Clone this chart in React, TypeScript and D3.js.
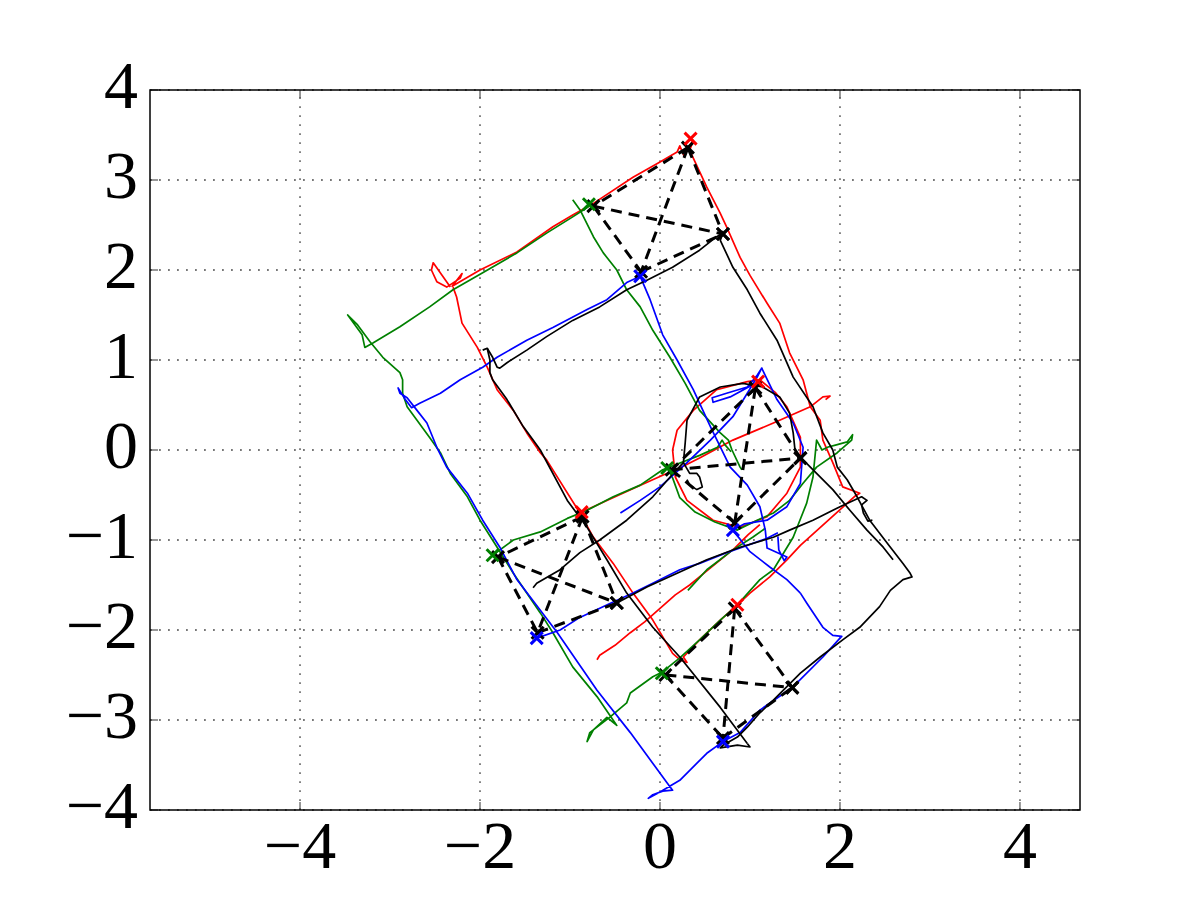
import React, { useEffect, useRef } from "react";
import * as d3 from "d3";

type Pt = [number, number];

// axis setup
const xTicks = [-4, -2, 0, 2, 4];
const yTicks = [-4, -3, -2, -1, 0, 1, 2, 3, 4];
const xDomain: Pt = [-5.667, 4.667];
const yDomain: Pt = [-4, 4];

// red trajectory pieces
const red1: Pt[] = [
  [-2.33, 1.81], [-2.52, 2.08], [-2.54, 2.0], [-2.48, 1.87], [-2.37, 1.81], [-2.22, 1.91], [-2.2, 1.96],
  [-2.31, 1.82], [-2.0, 2.0], [-1.59, 2.2], [-1.19, 2.48], [-0.97, 2.61], [-0.74, 2.74], [-0.3, 3.03],
  [0.0, 3.2], [0.19, 3.31], [0.22, 3.38], [0.27, 3.26], [0.31, 3.36], [0.37, 3.44], [0.33, 3.33],
  [0.52, 2.92], [0.67, 2.63], [0.74, 2.48], [0.89, 2.14], [1.0, 1.94], [1.19, 1.63], [1.33, 1.41],
  [1.44, 1.08], [1.59, 0.78], [1.67, 0.48], [1.78, 0.33], [1.81, 0.11], [1.92, -0.14], [2.03, -0.41],
  [2.22, -0.48], [2.17, -0.51], [1.56, -1.06], [1.41, -1.22], [1.22, -1.41], [1.0, -1.59], [0.86, -1.72],
  [0.67, -1.89], [0.44, -2.11], [0.26, -2.3], [0.3, -2.36], [0.22, -2.33], [0.14, -2.26], [-0.08, -1.89],
  [-0.3, -1.59], [-0.52, -1.26], [-0.74, -0.97], [-0.89, -0.7], [-1.26, -0.11], [-1.33, -0.03],
  [-1.48, 0.19], [-1.63, 0.44], [-1.81, 0.67], [-1.92, 0.92], [-2.03, 1.14], [-2.2, 1.41], [-2.26, 1.7],
  [-2.3, 1.81],
];
const red2: Pt[] = [
  [-0.7, -2.33], [-0.67, -2.28], [-0.5, -2.17], [-0.33, -2.03], [-0.17, -1.91], [0.0, -1.76], [0.17, -1.61],
  [0.33, -1.5], [0.5, -1.36], [0.67, -1.22], [0.83, -1.09], [0.98, -0.94], [1.11, -0.83],
];
const red3: Pt[] = [
  [-0.89, -0.7], [-0.59, -0.56], [-0.26, -0.41], [0.03, -0.28], [0.22, -0.2], [0.44, -0.09], [0.81, 0.11],
  [1.26, 0.3], [1.67, 0.48], [1.81, 0.59], [1.89, 0.6], [1.84, 0.56],
];
const red4: Pt[] = [
  [0.14, 0.0], [0.19, 0.22], [0.37, 0.44], [0.63, 0.67], [0.97, 0.76], [1.11, 0.78], [1.28, 0.64],
  [1.41, 0.48], [1.56, 0.14], [1.56, -0.19], [1.41, -0.48], [1.19, -0.74], [0.89, -0.86], [0.59, -0.78],
  [0.3, -0.56], [0.17, -0.3], [0.14, 0.0],
];

// green trajectory pieces
const green1: Pt[] = [
  [-0.76, 2.76], [-0.8, 2.7], [-0.97, 2.59], [-1.26, 2.41], [-1.59, 2.19], [-1.97, 1.97], [-2.3, 1.78],
  [-2.56, 1.59], [-2.89, 1.37], [-3.19, 1.19], [-3.28, 1.14], [-3.31, 1.28], [-3.47, 1.5], [-3.36, 1.39],
  [-3.22, 1.2], [-3.08, 1.03], [-2.89, 0.86], [-2.86, 0.78], [-2.86, 0.63], [-2.81, 0.48], [-2.7, 0.33],
  [-2.56, 0.14], [-2.44, -0.03], [-2.33, -0.26], [-2.14, -0.52], [-2.0, -0.78], [-1.81, -1.08],
  [-1.63, -1.37], [-1.33, -1.81], [-1.19, -2.03], [-0.97, -2.41], [-0.7, -2.74], [-0.48, -3.06],
  [-0.59, -2.97], [-0.74, -3.11], [-0.81, -3.24], [-0.78, -3.14], [-0.56, -2.97], [-0.37, -2.81],
  [-0.33, -2.7], [-0.08, -2.52], [0.02, -2.47], [0.22, -2.31], [0.44, -2.11], [0.67, -1.89], [0.86, -1.72],
  [1.11, -1.44], [1.26, -1.33], [1.48, -0.97], [1.63, -0.59], [1.7, -0.3], [1.74, 0.11], [1.8, 0.0],
  [1.86, 0.03], [1.97, 0.06], [2.08, 0.09], [2.14, 0.17], [2.13, 0.11], [1.97, -0.03], [1.74, -0.19],
  [1.59, -0.37], [1.44, -0.56], [1.26, -0.7], [1.08, -0.78], [0.86, -0.89], [0.61, -0.8], [0.39, -0.69],
  [0.22, -0.53], [0.14, -0.31], [0.08, -0.2],
];
const green2: Pt[] = [
  [-0.97, 2.78], [-0.89, 2.67], [-0.74, 2.37], [-0.63, 2.19], [-0.48, 2.0], [-0.37, 1.78], [-0.22, 1.59],
  [-0.08, 1.33], [0.11, 1.03], [0.28, 0.74], [0.44, 0.44], [0.67, 0.19], [0.76, 0.11], [0.8, 0.0],
  [0.89, -0.19], [0.91, -0.22],
];
const green3: Pt[] = [
  [-1.86, -1.17], [-1.63, -1.0], [-1.33, -0.91], [-1.03, -0.76], [-0.81, -0.67], [-0.52, -0.52],
  [-0.22, -0.39], [0.03, -0.22], [0.44, -0.06], [0.64, 0.03], [0.69, 0.11], [0.72, 0.06], [0.79, -0.02],
];
const green4: Pt[] = [
  [0.31, -1.56], [0.52, -1.33], [0.81, -1.11], [1.03, -0.97], [1.17, -0.87],
];

// blue trajectory pieces
const blue1: Pt[] = [
  [-0.22, 1.93], [-0.37, 1.86], [-0.59, 1.67], [-0.81, 1.56], [-1.19, 1.36], [-1.48, 1.22], [-1.81, 1.03],
  [-1.97, 0.92], [-2.22, 0.78], [-2.44, 0.63], [-2.67, 0.52], [-2.76, 0.47], [-2.83, 0.56], [-2.91, 0.69],
  [-2.89, 0.63], [-2.81, 0.58], [-2.7, 0.44], [-2.59, 0.3], [-2.48, 0.03], [-2.37, -0.19], [-2.14, -0.48],
  [-1.97, -0.78], [-1.78, -1.08], [-1.59, -1.44], [-1.14, -2.03], [-0.7, -2.67], [-0.33, -3.14],
  [0.08, -3.7], [0.14, -3.78], [0.03, -3.79], [-0.08, -3.83], [-0.13, -3.87], [0.0, -3.8], [0.22, -3.67],
  [0.52, -3.37], [0.7, -3.24], [0.89, -3.14], [1.11, -2.89], [1.48, -2.63], [1.81, -2.3], [2.0, -2.09],
  [2.02, -2.07], [1.92, -2.06], [1.81, -1.97], [1.63, -1.7], [1.56, -1.59],
];
const blue2: Pt[] = [
  [-0.22, 1.93], [-0.11, 1.67], [0.03, 1.28], [0.19, 1.0], [0.37, 0.67], [0.56, 0.26], [0.78, -0.19],
  [0.97, -0.39], [1.11, -0.63], [1.17, -0.89], [1.19, -1.09], [1.3, -1.14], [1.41, -1.19], [1.38, -1.23],
  [1.32, -1.11], [1.31, -0.96],
];
const blue3: Pt[] = [
  [1.13, 0.91], [1.3, 0.56], [1.48, 0.3], [1.59, 0.03], [1.56, -0.37], [1.41, -0.63], [1.19, -0.78],
  [0.94, -0.82], [0.81, -0.89], [1.0, -1.13], [1.22, -1.3], [1.41, -1.44], [1.56, -1.59],
];
const blue4: Pt[] = [
  [-0.44, -0.7], [-0.22, -0.56], [0.0, -0.41], [0.3, -0.14], [0.56, 0.11], [0.81, 0.37], [0.97, 0.63],
  [1.08, 0.81], [1.13, 0.91], [1.08, 0.83], [0.97, 0.7], [0.74, 0.63], [0.58, 0.58], [0.59, 0.53],
  [0.78, 0.59], [1.02, 0.72],
];
const blue5: Pt[] = [
  [-1.37, -2.09], [-1.11, -2.0], [-0.89, -1.86], [-0.52, -1.69], [-0.3, -1.59], [-0.08, -1.48],
  [0.22, -1.33], [0.44, -1.26], [0.74, -1.14], [0.97, -1.06], [1.19, -0.98], [1.31, -0.92],
];

// black trajectory pieces
const black1: Pt[] = [
  [-1.97, 1.11], [-1.92, 1.13], [-1.86, 1.03], [-1.81, 0.92], [-1.78, 0.91], [-1.7, 0.97], [-1.48, 1.11],
  [-1.26, 1.26], [-0.97, 1.44], [-0.67, 1.59], [-0.37, 1.78], [-0.14, 1.89], [0.14, 2.03], [0.44, 2.22],
  [0.63, 2.37], [0.7, 2.41],
];
const black2: Pt[] = [
  [0.7, 2.41], [0.67, 2.33], [0.81, 2.03], [0.97, 1.78], [1.11, 1.52], [1.3, 1.22], [1.48, 0.81],
  [1.7, 0.48], [1.81, 0.19], [1.92, 0.0], [1.97, -0.19], [2.08, -0.33], [2.19, -0.52], [2.33, -0.78],
  [2.56, -1.08], [2.7, -1.26], [2.78, -1.37], [2.8, -1.41], [2.7, -1.44], [2.56, -1.56], [2.44, -1.74],
  [2.22, -1.97], [2.03, -2.11], [1.78, -2.3], [1.56, -2.48], [1.26, -2.78], [1.11, -2.92], [0.97, -3.08],
  [0.86, -3.19], [0.7, -3.28], [0.67, -3.31], [0.86, -3.28], [1.0, -3.3], [0.97, -3.26],
];
const black3: Pt[] = [
  [-1.92, 1.13], [-1.89, 1.0], [-1.89, 0.86], [-1.86, 0.78], [-1.7, 0.56], [-1.52, 0.26], [-1.41, 0.11],
  [-1.33, 0.0], [-1.03, -0.56], [-0.81, -0.86], [-0.59, -1.22], [-0.37, -1.59], [-0.08, -1.97],
  [0.22, -2.3], [0.67, -2.86], [0.97, -3.26],
];
const black4: Pt[] = [
  [-1.41, -1.53], [-1.37, -1.48], [-1.11, -1.33], [-0.89, -1.14], [-0.67, -1.0], [-0.37, -0.78],
  [-0.08, -0.52], [0.13, -0.28], [0.26, -0.14], [0.28, 0.08], [0.3, 0.33], [0.44, 0.59], [0.67, 0.7],
  [0.92, 0.74], [1.14, 0.7], [1.33, 0.59], [1.44, 0.41], [1.48, 0.19], [1.5, 0.0], [1.56, -0.08],
  [1.74, -0.26], [1.92, -0.44], [2.11, -0.67], [2.3, -0.89], [2.48, -1.08], [2.59, -1.22],
];
const black5: Pt[] = [
  [0.26, -0.14], [0.33, -0.26], [0.41, -0.26], [0.44, -0.3], [0.47, -0.41], [0.41, -0.44], [0.33, -0.39],
  [0.3, -0.33],
];
const black6: Pt[] = [
  [2.36, -0.78], [2.31, -0.79], [2.26, -0.7], [2.24, -0.61], [2.3, -0.56], [2.24, -0.52], [2.0, -0.63],
  [1.7, -0.78], [1.44, -0.89], [1.26, -0.97], [0.89, -1.08], [0.52, -1.22], [0.19, -1.37], [-0.14, -1.52],
  [-0.48, -1.7],
];

// measured marker positions, one per group
const redMarks: Pt[] = [[0.34, 3.46], [1.09, 0.76], [-0.87, -0.69], [0.86, -1.72]];
const greenMarks: Pt[] = [[-0.79, 2.73], [0.08, -0.2], [-1.86, -1.17], [0.02, -2.48]];
const blueMarks: Pt[] = [[-0.22, 1.93], [0.81, -0.89], [-1.37, -2.09], [0.7, -3.24]];
const blackMarks: Pt[] = [[0.7, 2.4], [1.56, -0.09], [-0.48, -1.7], [1.47, -2.64]];

// estimated positions (black x, joined by dashed lines)
const est1: Pt[] = [[0.31, 3.36], [-0.74, 2.71], [-0.21, 1.98], [0.7, 2.4]];
const est2: Pt[] = [[1.06, 0.69], [0.13, -0.22], [0.83, -0.81], [1.56, -0.09]];
const est3: Pt[] = [[-0.86, -0.74], [-1.8, -1.19], [-1.36, -2.03], [-0.48, -1.7]];
const est4: Pt[] = [[0.83, -1.76], [0.06, -2.5], [0.7, -3.2], [1.47, -2.64]];

export default function App() {
  const svgRef = useRef<SVGSVGElement>(null);

  useEffect(() => {
    const width = 1200;
    const height = 900;
    const m = { left: 150, right: 1080, top: 90, bottom: 810 };
    const svg = d3.select(svgRef.current).attr("width", width).attr("height", height);
    svg.selectAll("*").remove();

    const x = d3.scaleLinear().domain(xDomain).range([m.left, m.right]);
    const y = d3.scaleLinear().domain(yDomain).range([m.bottom, m.top]);

    svg.append("rect").attr("width", width).attr("height", height).attr("fill", "#fff");

    svg.append("defs").append("clipPath").attr("id", "plotclip")
      .append("rect")
      .attr("x", m.left).attr("y", m.top)
      .attr("width", m.right - m.left).attr("height", m.bottom - m.top);

    // grid
    const grid = svg.append("g")
      .attr("stroke", "#777").attr("stroke-width", 1.8).attr("stroke-dasharray", "1.8,7.2");
    xTicks.forEach((t) => {
      grid.append("line").attr("x1", x(t)).attr("x2", x(t)).attr("y1", m.bottom).attr("y2", m.top);
    });
    yTicks.forEach((t) => {
      grid.append("line").attr("x1", m.left).attr("x2", m.right).attr("y1", y(t)).attr("y2", y(t));
    });

    // trajectories
    const line = d3.line<Pt>().x((d) => x(d[0])).y((d) => y(d[1]));
    const plot = svg.append("g").attr("clip-path", "url(#plotclip)");
    const series: [Pt[][], string][] = [
      [[red1, red2, red3, red4], "#ff0000"],
      [[green1, green2, green3, green4], "#008000"],
      [[blue1, blue2, blue3, blue4, blue5], "#0000ff"],
      [[black1, black2, black3, black4, black5, black6], "#000000"],
    ];
    series.forEach(([paths, color]) => {
      paths.forEach((p) => {
        plot.append("path")
          .attr("d", line(p))
          .attr("fill", "none")
          .attr("stroke", color)
          .attr("stroke-width", 1.7)
          .attr("stroke-linejoin", "round");
      });
    });

    // dashed links between estimates
    [est1, est2, est3, est4].forEach((pts) => {
      for (let i = 0; i < pts.length; i++) {
        for (let j = i + 1; j < pts.length; j++) {
          plot.append("line")
            .attr("x1", x(pts[i][0])).attr("y1", y(pts[i][1]))
            .attr("x2", x(pts[j][0])).attr("y2", y(pts[j][1]))
            .attr("stroke", "#000").attr("stroke-width", 3)
            .attr("stroke-dasharray", "11,7");
        }
      }
    });

    // x markers
    const cross = (g: any, p: Pt, color: string) => {
      const cx = x(p[0]);
      const cy = y(p[1]);
      const s = 6;
      g.append("path")
        .attr("d", `M${cx - s},${cy - s}L${cx + s},${cy + s}M${cx - s},${cy + s}L${cx + s},${cy - s}`)
        .attr("stroke", color).attr("stroke-width", 3).attr("fill", "none");
    };
    [est1, est2, est3, est4].forEach((pts) => pts.forEach((p) => cross(plot, p, "#000")));
    redMarks.forEach((p) => cross(plot, p, "#ff0000"));
    greenMarks.forEach((p) => cross(plot, p, "#008000"));
    blueMarks.forEach((p) => cross(plot, p, "#0000ff"));
    blackMarks.forEach((p) => cross(plot, p, "#000000"));

    // ticks on all four sides
    const ticks = svg.append("g").attr("stroke", "#333").attr("stroke-width", 1);
    xTicks.forEach((t) => {
      ticks.append("line").attr("x1", x(t)).attr("x2", x(t)).attr("y1", m.bottom).attr("y2", m.bottom - 8);
      ticks.append("line").attr("x1", x(t)).attr("x2", x(t)).attr("y1", m.top).attr("y2", m.top + 8);
    });
    yTicks.forEach((t) => {
      ticks.append("line").attr("x1", m.left).attr("x2", m.left + 8).attr("y1", y(t)).attr("y2", y(t));
      ticks.append("line").attr("x1", m.right).attr("x2", m.right - 8).attr("y1", y(t)).attr("y2", y(t));
    });

    // frame
    svg.append("rect")
      .attr("x", m.left).attr("y", m.top)
      .attr("width", m.right - m.left).attr("height", m.bottom - m.top)
      .attr("fill", "none").attr("stroke", "#000").attr("stroke-width", 1.5);

    // tick labels
    const fmt = (v: number) => (v < 0 ? "\u2212" + Math.abs(v) : String(v));
    const font = "'Liberation Serif', 'DejaVu Serif', serif";
    xTicks.forEach((t) => {
      svg.append("text")
        .attr("x", x(t)).attr("y", m.bottom + 58)
        .attr("text-anchor", "middle")
        .attr("font-family", font).attr("font-size", 68)
        .text(fmt(t));
    });
    yTicks.forEach((t) => {
      svg.append("text")
        .attr("x", 138).attr("y", y(t) + 18)
        .attr("text-anchor", "end")
        .attr("font-family", font).attr("font-size", 68)
        .text(fmt(t));
    });
  }, []);

  return <svg ref={svgRef} style={{ position: "absolute", left: 0, top: 0 }} />;
}
